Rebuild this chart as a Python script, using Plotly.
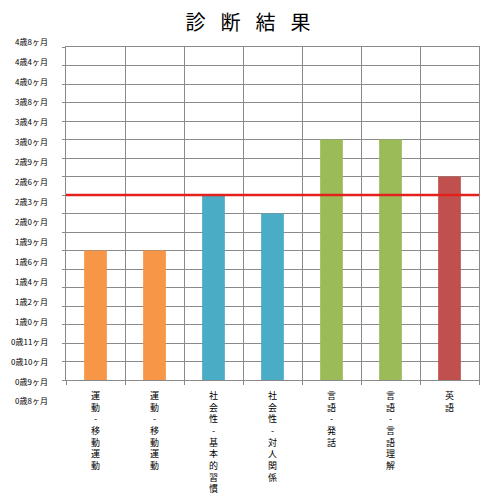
import plotly.graph_objects as go

# ---- data ----
age_labels = ["0歳8ヶ月", "0歳9ヶ月", "0歳10ヶ月", "0歳11ヶ月", "1歳0ヶ月", "1歳2ヶ月",
              "1歳4ヶ月", "1歳6ヶ月", "1歳9ヶ月", "2歳0ヶ月", "2歳3ヶ月", "2歳6ヶ月",
              "2歳9ヶ月", "3歳0ヶ月", "3歳4ヶ月", "3歳8ヶ月", "4歳0ヶ月", "4歳4ヶ月", "4歳8ヶ月"]
categories = ["運動-移動運動", "運動-移動運動", "社会性-基本的習慣", "社会性-対人関係",
              "言語-発話", "言語-言語理解", "英語"]
results = ["1歳6ヶ月", "1歳6ヶ月", "2歳3ヶ月", "2歳0ヶ月", "3歳0ヶ月", "3歳0ヶ月", "2歳6ヶ月"]
bar_colors = ["#F79646", "#F79646", "#4BACC6", "#4BACC6", "#9BBB59", "#9BBB59", "#C0504D"]
reference_age = "2歳3ヶ月"

# page has an 8px body margin, so the figure is 8px smaller and shifted
OFF = 8
W, H = 491 - OFF, 499 - OFF
FONT = "Noto Sans CJK JP"
GRID = "#8a8a8a"


def px_x(v):
    return (v - OFF) / W


def px_y(v):
    return (H - (v - OFF)) / H


n = len(categories)
x_pos = list(range(n))
vertical_text = ["<br>".join(list(c)) for c in categories]
y_index = [age_labels.index(r) for r in results]
top = len(age_labels) - 1

fig = go.Figure()
fig.add_trace(go.Bar(x=x_pos, y=y_index, marker=dict(color=bar_colors, line=dict(width=0)),
                     hoverinfo="skip"))

ref_i = age_labels.index(reference_age)
fig.add_shape(type="line", xref="x domain", yref="y", x0=0, x1=1, y0=ref_i, y1=ref_i,
              line=dict(color="#e3211c", width=2.5), layer="above")

# age labels (placed on their own evenly spaced column, as in the original sheet)
lab_bottom, lab_top = px_y(401), px_y(42)
for i, t in enumerate(age_labels):
    fig.add_annotation(text=t, xref="paper", yref="paper", x=px_x(49), xanchor="right",
                       y=lab_bottom + (lab_top - lab_bottom) * i / top, yanchor="middle",
                       showarrow=False, borderpad=0,
                       font=dict(family=FONT, size=8, color="black"))

x_dom = [px_x(66), px_x(479)]
fig.update_layout(
    width=W, height=H,
    margin=dict(l=0, r=0, t=0, b=0),
    paper_bgcolor="white", plot_bgcolor="white",
    showlegend=False,
    bargap=0.615,
    title=dict(text="診\u2002\u2005断\u2002\u2005結\u2002\u2005果", x=px_x(248), xanchor="center",
               y=px_y(22.5), yanchor="middle", yref="container", xref="container",
               font=dict(family=FONT, size=20, color="black")),
    xaxis=dict(domain=x_dom, range=[-0.5, n - 0.5],
               tickmode="array", tickvals=x_pos, ticktext=vertical_text,
               ticks="", showgrid=False, zeroline=False, ticklabelstandoff=7,
               minor=dict(tickmode="array", tickvals=[i - 0.5 for i in range(n + 1)],
                          ticks="outside", ticklen=4, tickcolor=GRID,
                          showgrid=True, gridcolor=GRID, gridwidth=1),
               showline=True, linecolor=GRID, linewidth=1, mirror=True,
               tickfont=dict(family=FONT, size=9, color="black"),
               tickangle=0, fixedrange=True),
    yaxis=dict(domain=[px_y(380), px_y(47)],
               range=[0, top], tickmode="linear", tick0=0, dtick=1,
               showticklabels=False, ticks="outside", ticklen=3, tickcolor=GRID,
               showgrid=True, gridcolor=GRID, gridwidth=1, zeroline=False,
               showline=True, linecolor=GRID, linewidth=1, mirror=True, fixedrange=True),
)

fig.write_html("out.html")
